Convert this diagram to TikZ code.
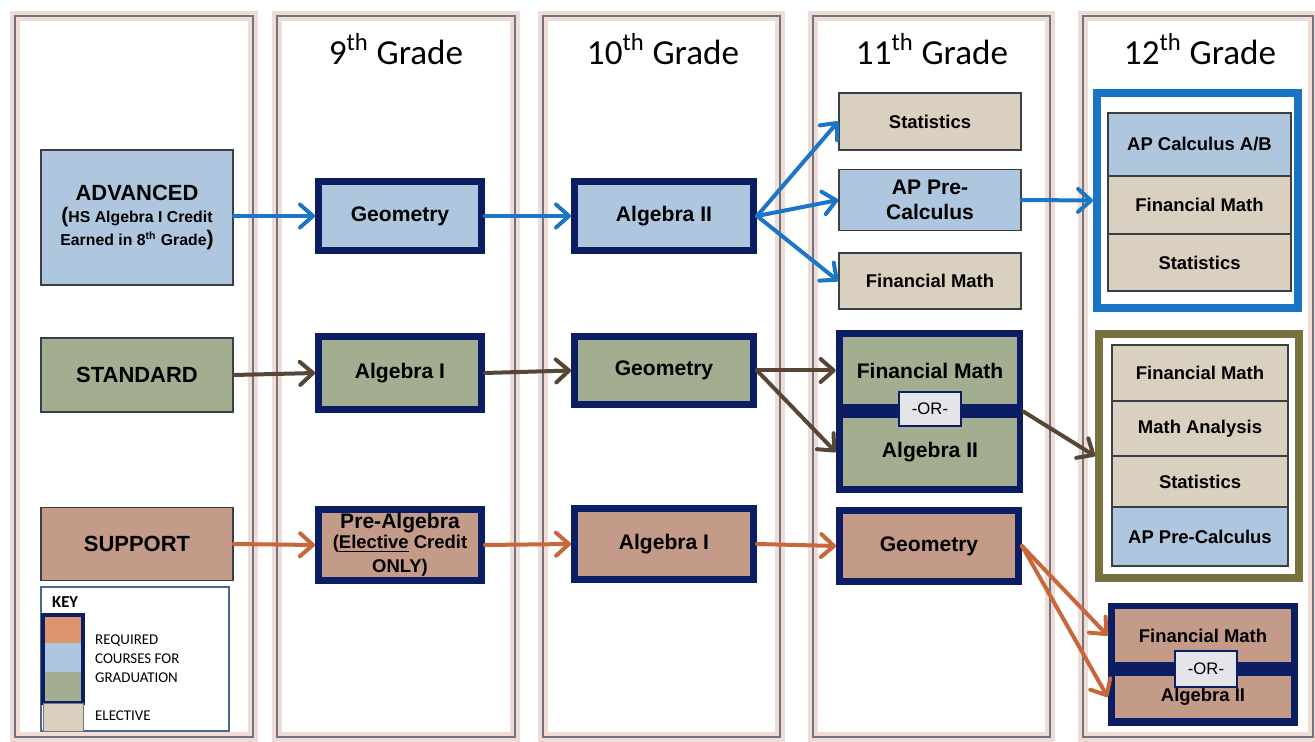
\documentclass[tikz,border=0pt]{standalone}
\usepackage{fontspec}
\setmainfont{Liberation Sans}
\newfontfamily\hdfont{Carlito}
\usetikzlibrary{arrows.meta,fit}
\definecolor{advblue}{HTML}{AEC7DE}\definecolor{stdgreen}{HTML}{A3AD8F}
\definecolor{supbrown}{HTML}{C49A89}\definecolor{elecbeige}{HTML}{D9D0BF}
\definecolor{crsnavy}{HTML}{0C1E63}\definecolor{boxgray}{HTML}{3A3F45}
\definecolor{panelgray}{HTML}{6B7683}\definecolor{glowpink}{HTML}{F0DCD4}
\definecolor{grpblue}{HTML}{1A74C4}\definecolor{grpolive}{HTML}{77723F}
\definecolor{bluearr}{HTML}{1C76C8}\definecolor{brownarr}{HTML}{574636}
\definecolor{orangearr}{HTML}{C8663C}\definecolor{orgray}{HTML}{E3E5EB}
\definecolor{keyorange}{HTML}{DF9470}\definecolor{keyline}{HTML}{4D6592}
\newcommand\bigf{\bfseries\fontsize{12}{14.5}\selectfont}
\newcommand\smf{\bfseries\fontsize{10.5}{12.5}\selectfont}
\tikzset{sz/.style 2 args={minimum width=#1*0.02cm,minimum height=#2*0.02cm},
 panel/.style={fill=white,draw=glowpink,line width=.2cm,postaction={draw=panelgray,line width=.045cm}},
 req/.style={draw=crsnavy,line width=.14cm,inner sep=0pt,align=center,font=\bigf},
 thin/.style={draw=boxgray,line width=.03cm,inner sep=0pt,align=center,font=\bigf},
 inbox/.style={inner sep=0pt,align=center,font=\bigf},
 orbox/.style={draw=crsnavy,line width=.04cm,fill=orgray,inner sep=0pt,font=\fontsize{9.5}{11}\selectfont},
 grp/.style={fill=white,line width=.16cm,inner sep=0pt},
 swatch/.style={inner sep=0pt,sz={40}{29}},
 hd/.style={font=\hdfont\fontsize{20}{24}\selectfont},
 keytxt/.style={font=\hdfont\fontsize{8.5}{10.8}\selectfont,align=left,anchor=west},
 flow/.style={-{Straight Barb[round,length=2.6mm,width=4.6mm]},line width=.08cm,line cap=round},
 bflow/.style={flow,bluearr},sflow/.style={flow,brownarr},rflow/.style={flow,orangearr}}
\begin{document}
\begin{tikzpicture}[x=.02cm,y=-.02cm]
\useasboundingbox (0,0) rectangle (1315,742);
% grade columns
\foreach \n/\x/\w in {0/134/238,1/396/238,2/661.5/237,3/931.5/237,4/1198/230}
 \node[panel,sz={\w}{721}] (col\n) at (\x,376.5) {};
\node[hd] (h9) at (396,49) {9\textsuperscript{th} Grade};
\node[hd] (h10) at (663,49) {10\textsuperscript{th} Grade};
\node[hd] (h11) at (932,49) {11\textsuperscript{th} Grade};
\node[hd] (h12) at (1200,49) {12\textsuperscript{th} Grade};
% tracks
\node[thin,fill=advblue,sz={192}{135},font=\bfseries\fontsize{9}{13}\selectfont] (adv) at (137,217.5)
 {{\fontsize{12.5}{15}\selectfont ADVANCED}\\{\fontsize{12}{13}\selectfont(}HS Algebra I Credit\\Earned in 8\textsuperscript{th} Grade{\fontsize{12}{13}\selectfont)}};
\node[thin,fill=stdgreen,sz={192}{74},font=\bfseries\fontsize{12.5}{15}\selectfont] (std) at (137,375) {STANDARD};
\node[thin,fill=supbrown,sz={192}{73},font=\bfseries\fontsize{12.5}{15}\selectfont] (sup) at (137,544) {SUPPORT};
% key
\node[draw=keyline,line width=.03cm,fill=white,sz={188}{144}] (key) at (135,659) {};
\node[font=\hdfont\bfseries\fontsize{9.5}{11}\selectfont,anchor=west] (keyt) at (46,602) {KEY};
\node[swatch,fill=keyorange,sz={40}{28}] (kr) at (63,629) {};
\node[swatch,fill=advblue] (kb) at (63,657.5) {};
\node[swatch,fill=stdgreen,sz={40}{31}] (kg) at (63,687.5) {};
\node[fit=(kr)(kg),draw=crsnavy,line width=.08cm,inner sep=0pt] (kreq) {};
\node[swatch,fill=elecbeige,draw=boxgray!70,line width=.02cm,sz={40}{28}] (ke) at (63,717) {};
\node[keytxt] (kt1) at (89,659) {REQUIRED\\COURSES FOR\\GRADUATION};
\node[keytxt] (kt2) at (89,716) {ELECTIVE};
% 9th grade
\node[req,fill=advblue,sz={163}{69}] (geo9) at (400,216) {Geometry};
\node[req,fill=stdgreen,sz={163}{73}] (alg9) at (400,373) {Algebra I};
\node[req,fill=supbrown,sz={163}{71}] (pre9) at (400,545)
 {Pre-Algebra\\[-3pt]{\smf(\underline{Elective} Credit}\\[-1pt]{\smf ONLY)}};
% 10th grade
\node[req,fill=advblue,sz={179}{69}] (alg10) at (664,216) {Algebra II};
\node[req,fill=stdgreen,sz={179}{68}] (geo10) at (664,370.5) {Geometry};
\node[req,fill=supbrown,sz={179}{71}] (alg10s) at (664,544) {Algebra I};
% 11th grade
\node[thin,fill=elecbeige,sz={182}{57},font=\smf] (stat11) at (930,121.5) {Statistics};
\node[thin,fill=advblue,sz={182}{61}] (apc11) at (930,200) {AP Pre-\\Calculus};
\node[thin,fill=elecbeige,sz={182}{56},font=\smf] (fin11) at (930,281) {Financial Math};
\node[fill=crsnavy,sz={187}{163}] (or11) at (929.5,411.5) {};
\node[inbox,fill=stdgreen,sz={174}{67}] (fin11s) at (930,370.5) {Financial Math};
\node[inbox,fill=stdgreen,sz={174}{68}] (alg11) at (930,452) {Algebra II};
\node[orbox,sz={62}{34}] (ort11) at (930,409) {-OR-};
\node[req,fill=supbrown,sz={179}{71}] (geo11) at (929,546) {Geometry};
% 12th grade
\node[grp,draw=grpblue,sz={201}{215}] (adv12) at (1197.5,200.5) {};
\node[thin,fill=advblue,sz={183}{63},font=\smf] (apcalc12) at (1199.5,144.5) {AP Calculus A/B};
\node[thin,fill=elecbeige,sz={183}{58},font=\smf] (fin12) at (1199.5,205) {Financial Math};
\node[thin,fill=elecbeige,sz={183}{57},font=\smf] (stat12) at (1199.5,262.5) {Statistics};
\node[grp,draw=grpolive,sz={200}{244}] (std12) at (1199,456) {};
\node[thin,fill=elecbeige,sz={176}{56},font=\smf] (fin12s) at (1200,373) {Financial Math};
\node[thin,fill=elecbeige,sz={176}{55},font=\smf] (man12) at (1200,428.5) {Math Analysis};
\node[thin,fill=elecbeige,sz={176}{51},font=\smf] (stat12s) at (1200,481.5) {Statistics};
\node[thin,fill=advblue,sz={176}{59},font=\smf] (apc12) at (1200,536.5) {AP Pre-Calculus};
\node[fill=crsnavy,sz={190}{123}] (or12) at (1203,664.5) {};
\node[inbox,fill=supbrown,sz={176}{53},font=\smf] (fin12r) at (1203,635.5) {Financial Math};
\node[inbox,fill=supbrown,sz={176}{42},font=\smf] (alg12) at (1203,697) {Algebra II};
\node[orbox,sz={62}{36}] (ort12) at (1206,669) {-OR-};
% arrows
\draw[bflow] (adv.east|-geo9.west) -- (geo9.west);
\draw[bflow] (geo9.east) -- (alg10.west);
\foreach \t in {stat11,apc11,fin11} \draw[bflow] (alg10.east) -- (\t.west);
\draw[bflow] (apc11.east) -- (adv12.west);
\draw[sflow] (std.east) -- (alg9.west);
\draw[sflow] (alg9.east) -- (geo10.west);
\draw[sflow] (geo10.east) -- (geo10.east-|or11.west);
\draw[sflow] (geo10.east) -- (or11.west|-alg11);
\draw[sflow] (or11.east) -- (std12.west);
\draw[rflow] (sup.east) -- (pre9.west);
\draw[rflow] (pre9.east) -- (alg10s.west);
\draw[rflow] (alg10s.east) -- (geo11.west);
\draw[rflow] (geo11.east) -- (or12.west|-fin12r);
\draw[rflow] (geo11.east) -- (or12.west|-alg12);
\end{tikzpicture}
\end{document}
